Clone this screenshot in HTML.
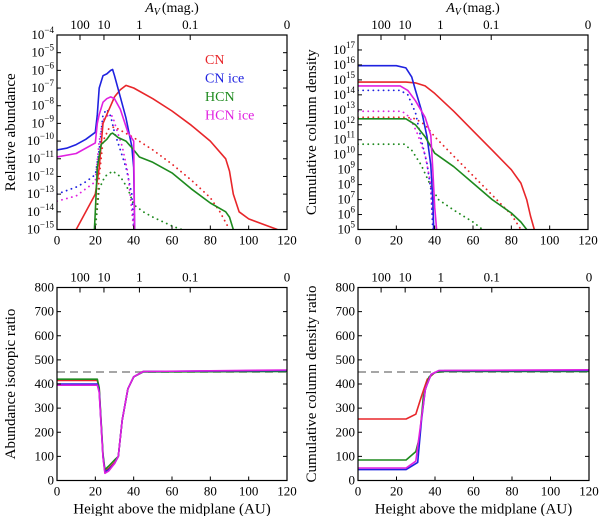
<!DOCTYPE html>
<html><head><meta charset="utf-8"><style>
body{margin:0;background:#fff}
svg{display:block}
svg text{font-family:"Liberation Serif","DejaVu Serif",serif}
</style></head><body>
<svg id="fig" width="600" height="516" viewBox="0 0 600 516" font-family="Liberation Serif, DejaVu Serif, serif" xmlns="http://www.w3.org/2000/svg"></svg>
<script>
// ---------- data ----------
const xTicks=[0,20,40,60,80,100,120];
const avLabels=["100","10","1","0.1","0"];
const avPos=[12,24.5,43,69.5,120];
const legendNames=["CN","CN ice","HCN","HCN ice"];
const colors=["#e8262a","#1f22e0","#1e8a1e","#e020e0"];

// top-left: log10 relative abundance
const tlCNx=[10,15,20,22,24,26,28,30,33,36,40,50,60,70,80,88,90,92,95,100,110,115];
const tlCNy=[-15,-14,-13,-11.5,-9,-8.5,-8,-7.5,-7.1,-6.85,-7,-7.6,-8.3,-9.1,-10,-11,-11.7,-13,-14,-14.4,-14.8,-15];
const tlCNdx=[20,22,24,27,30,35,40,50,60,70,80,85,90];
const tlCNdy=[-15,-12,-10,-9.3,-9.2,-9.5,-9.8,-10.5,-11.3,-12.2,-13.2,-14,-15];
const tlCNIx=[0,5,10,15,20,21,22,24,26,28,29,30,33,36,39,40,40.5];
const tlCNIy=[-10.5,-10.4,-10.2,-9.9,-9.5,-8.5,-7,-6.3,-6.2,-6,-5.95,-6.3,-7.5,-8.7,-10.3,-11.5,-15];
const tlCNIdx=[0,5,10,15,20,22,24,26,28,30,33,36,39,40];
const tlCNIdy=[-13,-12.8,-12.6,-12.3,-11.9,-10.5,-8.5,-8.2,-8.6,-9.5,-10.5,-11.5,-13,-15];
const tlHx=[19.5,20,21,23,26,28,29,32,36,40,43,50,60,70,80,88,90,92];
const tlHy=[-15,-14,-11.5,-10.2,-9.9,-9.6,-9.55,-9.8,-10,-10.5,-10.9,-11.2,-11.8,-12.7,-13.5,-14,-14.3,-15];
const tlHdx=[20,22,25,29,33,37,40,45,50,60,65];
const tlHdy=[-15,-12.7,-12,-11.7,-12,-12.7,-13.6,-14,-14.3,-14.8,-15];
const tlHIx=[0,10,20,21,22,24,26,28,30,33,37,40,40.5];
const tlHIy=[-10.9,-10.7,-10.1,-9,-8.5,-7.8,-7.6,-7.5,-7.6,-8.2,-9.5,-10,-15];
const tlHIdx=[0,10,20,22,24,27,29,31,34,37,40];
const tlHIdy=[-13.4,-13.1,-12.3,-10,-8.8,-8.5,-8.6,-9.3,-10.3,-11.8,-15];

// top-right: log10 cumulative column density
const trCNx=[0,25,30,35,40,50,60,70,80,85,88,90,92];
const trCNy=[14.85,14.85,14.8,14.6,14.1,12.9,11.6,10.3,9,8.1,7,5.9,5];
const trCNdx=[0,25,30,35,40,50,60,70,80,85];
const trCNdy=[12.5,12.5,12.4,12,11.2,9.9,8.6,7.3,6,5];
const trCNIx=[0,20,25,28,30,33,36,38,39,39.5];
const trCNIy=[15.95,15.95,15.8,15.2,14.3,13,11.2,9.3,7,5];
const trCNIdx=[0,22,26,30,33,36,38,39];
const trCNIdy=[14.3,14.3,14,12.8,11,9.4,7.7,5];
const trHx=[0,25,30,35,40,50,60,70,80,85,88];
const trHy=[12.4,12.4,12,11.2,10.1,9.2,8.1,7,6.1,5.5,5];
const trHdx=[0,24,28,33,38,42,50,60,65];
const trHdy=[10.7,10.7,10.3,9.3,7.9,7,6.3,5.5,5];
const trHIx=[0,22,26,30,35,38,39,40,41];
const trHIy=[14.6,14.6,14.3,13.6,12.5,11.3,9,6.5,5];
const trHIdx=[0,23,27,31,35,38,39.5];
const trHIdy=[12.9,12.9,12.5,11.4,10,8,5];

// bottom-left: abundance isotopic ratio
const blX=[0,21,22,24,25,27,30,32,34,37,40,45,120];
const blCN=[415,415,380,100,40,50,75,100,250,380,430,452,455];
const blCNI=[400,400,370,100,35,45,70,100,250,380,430,452,456];
const blH=[420,420,385,110,45,60,85,100,250,380,430,450,452];
const blHI=[395,395,365,95,30,40,70,100,250,380,430,452,458];
// bottom-right: cumulative column density ratio
const brCNx=[0,25,30,33,36,40,45,120]; const brCNy=[255,255,275,350,420,448,455,455];
const brHx=[0,25,30,32,34,37,40,45,120]; const brHy=[85,85,120,180,350,430,448,452,452];
const brCNIx=[0,25,31,33,35,38,42,120]; const brCNIy=[45,45,75,250,380,440,455,456];
const brHIx=[0,25,30,32,35,38,42,120]; const brHIy=[52,52,80,200,380,440,456,459];
const refRatio=450;

// ---------- drawing ----------
const svg=document.getElementById('fig');
const NS="http://www.w3.org/2000/svg";
const FF='Liberation Serif, DejaVu Serif, serif';
function mk(tag,attrs,parent){const e=document.createElementNS(NS,tag);for(const k in attrs)e.setAttribute(k,attrs[k]);if(tag==='text')e.setAttribute('font-family',FF);(parent||svg).appendChild(e);return e;}

const panels={
 tl:{x0:57,x1:287,y0:35,y1:229.5,ymin:-15,ymax:-4,log:true,name:'abundance-panel'},
 tr:{x0:358,x1:588,y0:35,y1:229.5,ymin:5,ymax:18,log:true,name:'column-density-panel'},
 bl:{x0:57,x1:287,y0:287.5,y1:480.5,ymin:0,ymax:800,log:false,name:'abundance-ratio-panel'},
 br:{x0:358,x1:589,y0:287.5,y1:480.5,ymin:0,ymax:800,log:false,name:'column-ratio-panel'}
};
function sx(p,v){return p.x0+(v/120)*(p.x1-p.x0);}
function sy(p,v){return p.y1-(v-p.ymin)/(p.ymax-p.ymin)*(p.y1-p.y0);}

function line(p,xs,ys,color,dotted,name){
  const g=p.g;
  let d='';
  for(let i=0;i<xs.length;i++){d+=(i?'L':'M')+sx(p,xs[i]).toFixed(1)+','+sy(p,ys[i]).toFixed(1);}
  const el=mk('path',{d:d,fill:'none',stroke:color,'stroke-width':dotted?1.8:1.6,'stroke-linejoin':'round'},g);
  if(dotted){el.setAttribute('stroke-dasharray','0.1,5');el.setAttribute('stroke-linecap','round');}
  
  
}

function frame(p,yTicks,yLabelFn,ylabel,bottomLabel){
  const g=mk('g',{},svg);
  
  
  p.g=g;
  const clip=mk('clipPath',{id:'c'+p.name},svg);
  mk('rect',{x:p.x0,y:p.y0,width:p.x1-p.x0,height:p.y1-p.y0},clip);
  p.plot=mk('g',{'clip-path':'url(#c'+p.name+')'},g);
  xTicks.forEach(v=>{
    const x=sx(p,v);
    mk('line',{x1:x,x2:x,y1:p.y1,y2:p.y1-4,stroke:'#000','stroke-width':1},g);
    const t=mk('text',{x:x,y:p.y1+15,'font-size':13,'text-anchor':'middle',fill:'#000'},g);
    t.textContent=v;
    
    
  });
  avPos.forEach((v,i)=>{
    const x=sx(p,v);
    mk('line',{x1:x,x2:x,y1:p.y0,y2:p.y0+5,stroke:'#000','stroke-width':1},g);
    const t=mk('text',{x:x,y:p.y0-6,'font-size':13,'text-anchor':'middle',fill:'#000'},g);
    t.textContent=avLabels[i];
    
    
  });
  yTicks.forEach(v=>{
    const y=sy(p,v);
    mk('line',{x1:p.x0,x2:p.x0+4,y1:y,y2:y,stroke:'#000','stroke-width':1},g);
    mk('line',{x1:p.x1,x2:p.x1-4,y1:y,y2:y,stroke:'#000','stroke-width':1},g);
    const t=yLabelFn(v,p.x0-3,y,g);
    
    
  });
  mk('rect',{x:p.x0,y:p.y0,width:p.x1-p.x0,height:p.y1-p.y0,fill:'none',stroke:'#000','stroke-width':1.2},g);
  const yl=mk('text',{x:0,y:0,'font-size':15,'text-anchor':'middle',fill:'#000',transform:`translate(${p.x0-42},${(p.y0+p.y1)/2}) rotate(-90)`},g);
  yl.textContent=ylabel;
  
  
  if(bottomLabel){
    const xl=mk('text',{x:(p.x0+p.x1)/2,y:p.y1+33,'font-size':15,'text-anchor':'middle',fill:'#000'},g);
    xl.textContent='Height above the midplane (AU)';
    
    
  }
}
function powLabel(v,x,y,g){
  const t=mk('text',{x:x,y:y+4,'font-size':13,'text-anchor':'end',fill:'#000'},g);
  const a=mk('tspan',{},t);a.textContent='10';
  const b=mk('tspan',{dy:-6,'font-size':9},t);b.textContent=(v<0?'\u2212':'')+Math.abs(v);
  return t;
}
function numLabel(v,x,y,g){
  const t=mk('text',{x:x,y:y+4,'font-size':13,'text-anchor':'end',fill:'#000'},g);
  t.textContent=v;return t;
}
const P=panels;
frame(P.tl,[-15,-14,-13,-12,-11,-10,-9,-8,-7,-6,-5,-4],powLabel,'Relative abundance',false);
frame(P.tr,[5,6,7,8,9,10,11,12,13,14,15,16,17],powLabel,'Cumulative column density',false);
frame(P.bl,[0,100,200,300,400,500,600,700,800],numLabel,'Abundance isotopic ratio',true);
frame(P.br,[0,100,200,300,400,500,600,700,800],numLabel,'Cumulative column density ratio',true);

[172,473].forEach(cx=>{
  const t=mk('text',{x:cx,y:12,'font-size':14,'text-anchor':'middle',fill:'#000'});
  const a=mk('tspan',{'font-style':'italic'},t);a.textContent='A';
  const b=mk('tspan',{'font-style':'italic','font-size':10,dy:3},t);b.textContent='V';
  const c=mk('tspan',{dy:-3,dx:2},t);c.textContent='(mag.)';
  
  
});

function plotIn(p,fn){const old=p.g;p.g=p.plot;fn();p.g=old;}
plotIn(P.tl,()=>{
  line(P.tl,tlCNdx,tlCNdy,colors[0],true,'cn-dotted');
  line(P.tl,tlCNIdx,tlCNIdy,colors[1],true,'cn-ice-dotted');
  line(P.tl,tlHdx,tlHdy,colors[2],true,'hcn-dotted');
  line(P.tl,tlHIdx,tlHIdy,colors[3],true,'hcn-ice-dotted');
  line(P.tl,tlCNx,tlCNy,colors[0],false,'cn-line');
  line(P.tl,tlCNIx,tlCNIy,colors[1],false,'cn-ice-line');
  line(P.tl,tlHx,tlHy,colors[2],false,'hcn-line');
  line(P.tl,tlHIx,tlHIy,colors[3],false,'hcn-ice-line');
});
plotIn(P.tr,()=>{
  line(P.tr,trCNdx,trCNdy,colors[0],true,'cn-dotted');
  line(P.tr,trCNIdx,trCNIdy,colors[1],true,'cn-ice-dotted');
  line(P.tr,trHdx,trHdy,colors[2],true,'hcn-dotted');
  line(P.tr,trHIdx,trHIdy,colors[3],true,'hcn-ice-dotted');
  line(P.tr,trCNx,trCNy,colors[0],false,'cn-line');
  line(P.tr,trCNIx,trCNIy,colors[1],false,'cn-ice-line');
  line(P.tr,trHx,trHy,colors[2],false,'hcn-line');
  line(P.tr,trHIx,trHIy,colors[3],false,'hcn-ice-line');
});
plotIn(P.bl,()=>{
  const d=mk('line',{x1:P.bl.x0,x2:P.bl.x1,y1:sy(P.bl,refRatio),y2:sy(P.bl,refRatio),stroke:'#888','stroke-width':1.5,'stroke-dasharray':'8,5'},P.bl.plot);
  
  
  line(P.bl,blX,blCN,colors[0],false,'cn-line');
  line(P.bl,blX,blH,colors[2],false,'hcn-line');
  line(P.bl,blX,blCNI,colors[1],false,'cn-ice-line');
  line(P.bl,blX,blHI,colors[3],false,'hcn-ice-line');
});
plotIn(P.br,()=>{
  const d=mk('line',{x1:P.br.x0,x2:P.br.x1,y1:sy(P.br,refRatio),y2:sy(P.br,refRatio),stroke:'#888','stroke-width':1.5,'stroke-dasharray':'8,5'},P.br.plot);
  
  
  line(P.br,brCNx,brCNy,colors[0],false,'cn-line');
  line(P.br,brHx,brHy,colors[2],false,'hcn-line');
  line(P.br,brCNIx,brCNIy,colors[1],false,'cn-ice-line');
  line(P.br,brHIx,brHIy,colors[3],false,'hcn-ice-line');
});
legendNames.forEach((n,i)=>{
  const t=mk('text',{x:205,y:64+i*18.5,'font-size':14,fill:colors[i]});
  t.textContent=n;
  
  
});
</script>
</body></html>
